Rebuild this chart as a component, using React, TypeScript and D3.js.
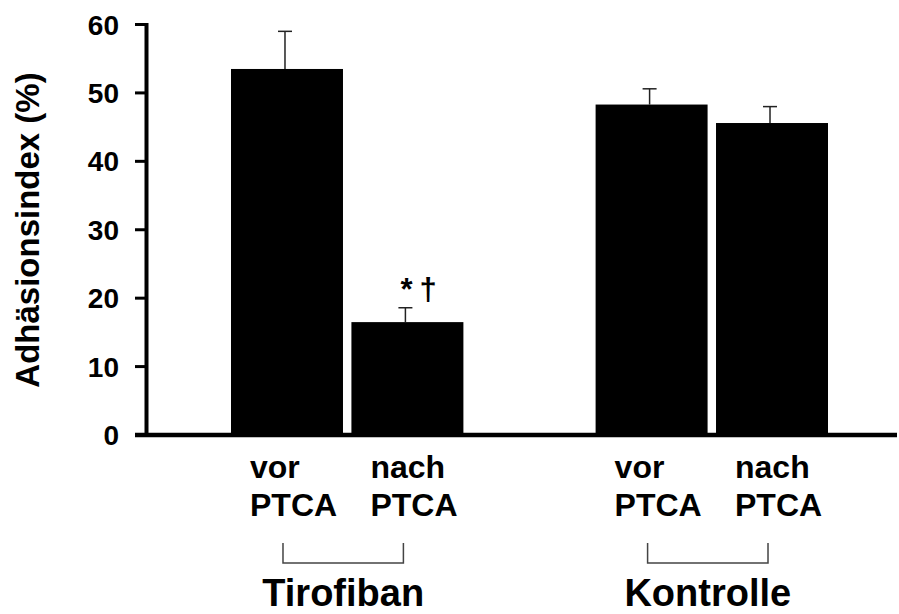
import React from "react";
import { scaleBand, scaleLinear } from "d3";

const groups = ["Tirofiban", "Kontrolle"];
const conditions = ["vor", "nach"];
// mean values and upper error (mean + SEM), per group and condition
const means = [
  [53.5, 16.5],
  [48.3, 45.6],
];
const errTops = [
  [59.0, 18.6],
  [50.6, 48.0],
];
const yTicks = [0, 10, 20, 30, 40, 50, 60];
const sigMarks = ["*", "\u2020"];

const W = 899;
const H = 614;
const font = "'Liberation Sans', Arial, sans-serif";

export default function App() {
  const y = scaleLinear().domain([0, 60]).range([435, 24.5]);
  const x0 = scaleBand()
    .domain(groups)
    .range([231, 828])
    .paddingInner(0.3626)
    .paddingOuter(0);
  const x1 = scaleBand()
    .domain(conditions)
    .range([0, x0.bandwidth()])
    .paddingInner(0.07);
  const bw = x1.bandwidth();
  const axisX = 146.5;
  const sigX = (x0("Tirofiban") as number) + (x1("nach") as number) + bw / 2 - 7;

  return (
    <svg
      width={W}
      height={H}
      style={{ position: "absolute", left: 0, top: 0, background: "#fff" }}
      fontFamily={font}
    >
      {groups.map((g, gi) =>
        conditions.map((c, ci) => {
          const left = (x0(g) as number) + (x1(c) as number);
          const cx = left + bw / 2 - 2;
          return (
            <g key={g + c}>
              <line
                x1={cx}
                x2={cx}
                y1={y(means[gi][ci])}
                y2={y(errTops[gi][ci])}
                stroke="#222"
                strokeWidth={1.5}
              />
              <line
                x1={cx - 7}
                x2={cx + 7}
                y1={y(errTops[gi][ci])}
                y2={y(errTops[gi][ci])}
                stroke="#222"
                strokeWidth={1.5}
              />
              <rect
                x={left}
                y={y(means[gi][ci])}
                width={bw}
                height={y(0) - y(means[gi][ci])}
                fill="#000"
              />
            </g>
          );
        })
      )}

      {/* significance marks above "nach PTCA" Tirofiban */}
      <text x={sigX} y={y(errTops[0][1]) - 8} fontSize={31} fontWeight="bold">
        {sigMarks[0]}
      </text>
      <text x={sigX + 19} y={y(errTops[0][1]) - 8} fontSize={31} fontWeight="bold">
        {sigMarks[1]}
      </text>

      {/* y axis */}
      <line x1={axisX} x2={axisX} y1={y(60) - 1.5} y2={y(0)} stroke="#000" strokeWidth={4} />
      {yTicks.map((t) => (
        <g key={t}>
          <line x1={135} x2={axisX} y1={y(t)} y2={y(t)} stroke="#000" strokeWidth={3} />
          <text
            x={119}
            y={y(t)}
            dy="0.36em"
            textAnchor="end"
            fontSize={28}
            fontWeight="bold"
          >
            {t}
          </text>
        </g>
      ))}
      {/* x axis */}
      <line x1={135} x2={897} y1={y(0)} y2={y(0)} stroke="#000" strokeWidth={4.5} />

      <text
        transform={`translate(39, 230) rotate(-90)`}
        textAnchor="middle"
        fontSize={33}
        fontWeight="bold"
      >
        Adhäsionsindex (%)
      </text>

      {/* category labels */}
      {groups.map((g) => {
        const cxs = conditions.map(
          (c) => (x0(g) as number) + (x1(c) as number) + bw / 2 - 4
        );
        return (
          <g key={g}>
            {conditions.map((c) => {
              const left = (x0(g) as number) + (x1(c) as number) + 19;
              return (
                <text key={c} x={left} fontSize={32} fontWeight="bold">
                  <tspan x={left} y={478}>
                    {c}
                  </tspan>
                  <tspan x={left} y={516}>
                    PTCA
                  </tspan>
                </text>
              );
            })}
            <path
              d={`M${cxs[0]},543 V563 H${cxs[1]} V543`}
              fill="none"
              stroke="#444"
              strokeWidth={1.5}
            />
            <text
              x={(cxs[0] + cxs[1]) / 2}
              y={606}
              textAnchor="middle"
              fontSize={38}
              fontWeight="bold"
            >
              {g}
            </text>
          </g>
        );
      })}
    </svg>
  );
}
